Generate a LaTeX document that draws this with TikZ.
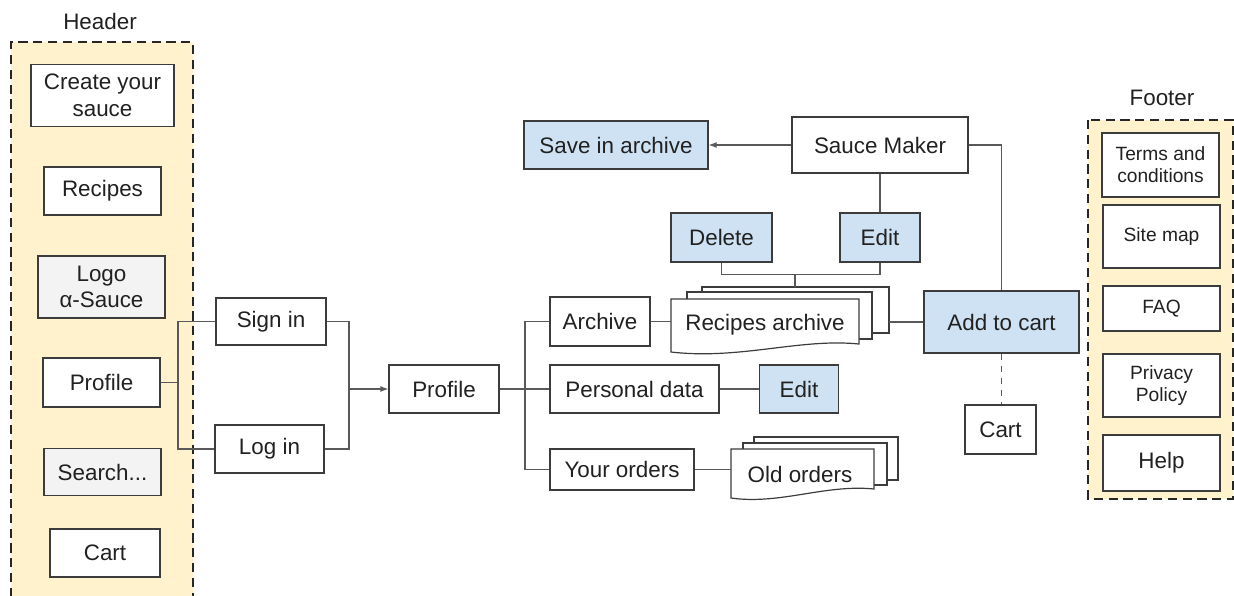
\documentclass[tikz,border=0pt]{standalone}
\usepackage{fontspec}
\setmainfont{Liberation Sans}
\usetikzlibrary{arrows.meta}
\definecolor{boxline}{HTML}{3C3C3C}
\definecolor{linkgray}{HTML}{595959}
\definecolor{areafill}{HTML}{FFF2CC}
\definecolor{actfill}{HTML}{CFE2F3}
\definecolor{logofill}{HTML}{F3F3F3}
\definecolor{ink}{HTML}{212121}
\begin{document}
\begin{tikzpicture}[x=0.5pt,y=-0.5pt,font=\fontsize{11.2}{13.3}\selectfont,text=ink,
    box/.style 2 args={draw=boxline,fill=white,line width=0.6pt,minimum width=#1*0.5pt,minimum height=#2*0.5pt,inner sep=0pt,align=center},
    act/.style={fill=actfill},
    grey/.style={fill=logofill},
    small/.style={font=\fontsize{9.6}{10.9}\selectfont},
    area/.style={draw=black!85,line width=1.2pt,dash pattern=on 4.6pt off 2.8pt},
    sheet/.style={draw=boxline,fill=white,line width=0.6pt},
    link/.style={draw=linkgray,line width=0.6pt}]
  \useasboundingbox (0,0) rectangle (1234,595);
  \fill[areafill] (11,42) rectangle (193,597);
  \draw[area] (11,597) -- (11,42) -- (193,42) -- (193,597);
  \fill[areafill] (1088,120) rectangle (1233,499);
  \draw[area] (1088,120) rectangle (1233,499);
  \node (headerlbl) at (100,21) {Header};
  \node (footerlbl) at (1162,98) {Footer};

  \node[box={143}{62}] (hCreate) at (102.5,95.5) {Create your\\sauce};
  \node[box={117}{48}] (hRecipes) at (102.5,191) {Recipes};
  \node[box={127}{62},grey] (hLogo) at (101.5,287) {Logo\\α-Sauce};
  \node[box={117}{49}] (hProfile) at (101.5,382.5) {Profile};
  \node[box={117}{47},grey] (hSearch) at (102.5,472) {Search...};
  \node[box={110}{48}] (hCart) at (105,553) {Cart};

  \node[box={110}{47}] (signIn) at (271,321.5) {Sign in};
  \node[box={109}{48}] (logIn) at (269.5,449) {Log in};
  \node[box={110}{48}] (profile) at (444,389) {Profile};
  \node[box={100}{49}] (archive) at (600,321.5) {Archive};
  \node[box={169}{48}] (personal) at (634.5,389) {Personal data};
  \node[box={79}{48},act] (editData) at (799,389) {Edit};
  \node[box={144}{41}] (orders) at (622,469.5) {Your orders};

  \node[box={184}{48},act] (save) at (616,145) {Save in archive};
  \node[box={176}{56}] (maker) at (880,145) {Sauce Maker};
  \node[box={101}{49},act] (delete) at (721.5,237.5) {Delete};
  \node[box={80}{49},act] (editRecipe) at (880,237.5) {Edit};
  \node[box={155}{62},act] (addCart) at (1001.5,322) {Add to cart};
  \node[box={71}{49}] (cart) at (1000.5,429.5) {Cart};

  \filldraw[sheet] (702,287) rectangle (889,333);
  \filldraw[sheet] (687,292) rectangle (872,339);
  \filldraw[sheet] (671,299) -- (859,299) -- (859,344) .. controls (800,338) and (740,360) .. (671,352) -- cycle;
  \node[minimum width=188*0.5pt,inner sep=0pt] (recArch) at (765,325) {Recipes archive};
  \coordinate (recTop) at (795,287);
  \coordinate (recBack) at (889,322);

  \filldraw[sheet] (754,437) rectangle (898,480);
  \filldraw[sheet] (743,443) rectangle (887,485);
  \filldraw[sheet] (731,449) -- (874,449) -- (874,489) .. controls (825,484) and (780,505) .. (731,498) -- cycle;
  \node[minimum width=138*0.5pt,inner sep=0pt] (oldOrd) at (800,474) {Old orders};

  \node[box={117}{64},small] (terms) at (1160.5,165) {Terms and\\conditions};
  \node[box={117}{63},small] (sitemap) at (1161.5,236.5) {Site map};
  \node[box={117}{45},small] (faq) at (1161.5,308.5) {FAQ};
  \node[box={117}{63},small] (privacy) at (1161.5,385.5) {Privacy\\Policy};
  \node[box={117}{56}] (help) at (1161.5,463) {Help};

  \coordinate (joinL) at (178,382.5);
  \coordinate (joinR) at (349,389);
  \coordinate (joinP) at (525,389);
  \draw[link] (hProfile.east) -- (joinL);
  \draw[link] (signIn.west) -| (joinL) |- (logIn.west);
  \draw[link] (signIn.east) -| (joinR) |- (logIn.east);
  \draw[link,-{Latex[length=4pt,width=3pt]}] (joinR) -- (profile.west);
  \draw[link] (profile.east) -- (personal.west);
  \draw[link] (archive.west) -| (joinP) |- (orders.west);
  \draw[link] (archive.east) -- (archive.east -| recArch.west);
  \draw[link] (personal.east) -- (editData.west);
  \draw[link] (orders.east) -- (orders.east -| oldOrd.west);
  \draw[link,-{Latex[length=4pt,width=3pt]}] (maker.west) -- (save.east);
  \draw[link] (maker.south) -- (editRecipe.north);
  \draw[link] (delete.south) -- ++(0,12) -| (editRecipe.south);
  \draw[link] (recTop) -- ++(0,-13);
  \draw[link] (maker.east) -| (addCart.north);
  \draw[link] (recBack) -- (recBack -| addCart.west);
  \draw[link,dashed] (addCart.south) -- (addCart.south |- cart.north);
\end{tikzpicture}
\end{document}
